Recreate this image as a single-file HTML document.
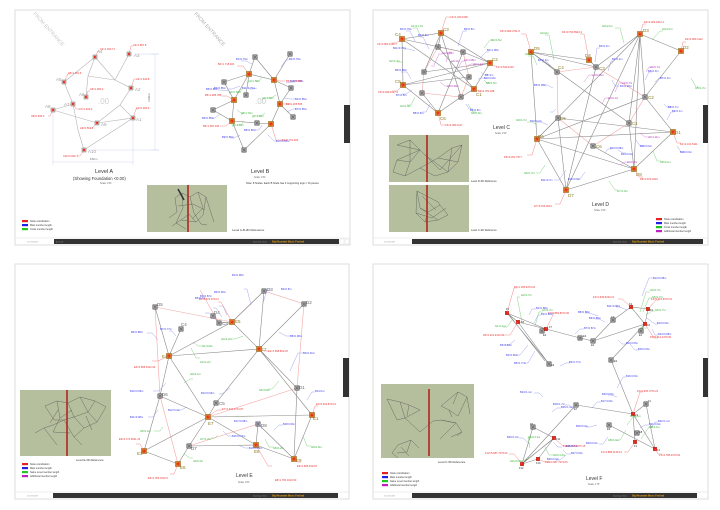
<!DOCTYPE html>
<html><head><meta charset="utf-8">
<style>
html,body{margin:0;padding:0;background:#fff;width:720px;height:510px;overflow:hidden}
svg{display:block;font-family:"Liberation Sans",sans-serif}
.sh{fill:#fff;stroke:#d6d6d6;stroke-width:.8}
.ln{stroke:#8a8a8a;stroke-width:.6;fill:none}
.la{stroke:#b4b4b4;stroke-width:.6;fill:none}
.pk{stroke:#f3a7a7;stroke-width:.6;fill:none}
.dm{stroke:#c4c8ee;stroke-width:.4;fill:none}
.bl{stroke:#8d8df2;stroke-width:.4;fill:none}
.rd{stroke:#f06a6a;stroke-width:.4;fill:none}
.gr{stroke:#62c862;stroke-width:.4;fill:none}
.mg{stroke:#cc66cc;stroke-width:.4;fill:none}
.rl{stroke:#555;stroke-width:.4;fill:none}
text{font-size:2.6px}
.tb{fill:#3c3cec}.tr{fill:#ec3030}.tg{fill:#2fae2f}.tm{fill:#b030b0}
.nl{fill:#8a7a22;font-size:4.5px}
.na{fill:#a0a0a0;font-size:4.5px}
.nk{fill:#333;font-size:2.6px}
.tt{fill:#333;font-size:5.5px}
.sc{fill:#666;font-size:2.4px}
.ft{fill:#999;font-size:2.2px}
.fo{fill:#e8a010;font-size:2.4px;font-weight:bold}
</style></head><body>
<svg width="720" height="510" viewBox="0 0 720 510" xmlns="http://www.w3.org/2000/svg">
<defs>
<g id="on"><rect x="-2.6" y="-2.6" width="5.2" height="5.2" fill="#d8922c" stroke="#7a5a20" stroke-width=".4"/><rect x="-1.5" y="-1.5" width="3" height="3" fill="#e83018"/></g>
<g id="gn"><rect x="-2.2" y="-2.2" width="4.4" height="4.4" fill="#9a9a9a" stroke="#333" stroke-width=".4"/><path d="M-1.5 -1.5L1.5 1.5M1.5 -1.5L-1.5 1.5" stroke="#444" stroke-width=".4"/></g>
<g id="an"><rect x="-2" y="-2" width="4" height="4" fill="#e0e0e0" stroke="#555" stroke-width=".4"/><rect x="-1.2" y="-1.2" width="2.4" height="2.4" fill="#e83018"/></g>
<g id="rn"><rect x="-1.8" y="-1.8" width="3.6" height="3.6" fill="#e82418" stroke="#8a2010" stroke-width=".3"/></g>
</defs>

<!-- ============ SHEET 1 (Level A / B) ============ -->
<rect class="sh" x="15" y="10" width="335" height="235"/>
<text x="0" y="0" transform="translate(33,14) rotate(48)" fill="#c8c8c8" style="font-size:5px">FROM ENTRANCE</text>
<text x="0" y="0" transform="translate(194,14) rotate(48)" fill="#b0b0b0" style="font-size:5px">FROM ENTRANCE</text>
<!-- dimension lines -->
<path class="dm" d="M155 54V150M151 54H159M151 150H159M53 162H133M53 112V165M133 120V165M88 150H159M135 54H159"/>
<text x="150" y="102" transform="rotate(-90 150 102)" class="sc">10.86 m</text>
<text x="90" y="160" class="sc">8.80 m</text>
<!-- level A members -->
<path class="la" d="M64 82L95 57L88 76L86 97M95 57L115 80L129 54M88 76L115 80L131 88L120 105L97 123M120 105L133 118M64 82L73 104M53 110L73 104M53 110L97 123M73 104L78 130L84 150L133 118M97 123L133 118"/>
<text x="98" y="104" fill="#d0d0d0" style="font-size:8px">.00</text>
<use href="#an" x="95" y="57"/><use href="#an" x="129" y="54"/><use href="#an" x="64" y="82"/><use href="#an" x="86" y="97"/>
<use href="#an" x="131" y="88"/><use href="#an" x="73" y="104"/><use href="#an" x="53" y="110"/><use href="#an" x="97" y="123"/>
<use href="#an" x="133" y="118"/><use href="#an" x="84" y="150"/>
<text class="na" x="97" y="53">A4</text><text class="na" x="134" y="57">A3</text><text class="na" x="56" y="81">A5</text><text class="na" x="79" y="96">A6</text>
<text class="na" x="135" y="91">A2</text><text class="na" x="64" y="106">A7</text><text class="na" x="45" y="108">A8</text><text class="na" x="101" y="126">A9</text>
<text class="na" x="136" y="121">A1</text><text class="na" x="88" y="153">A10</text>
<path class="rd" d="M95 57l3-6h2M129 54l2-8h2M64 82l4-8h2M86 97l2-6h2M131 88l3-9h2M73 104l3 5h3M53 110l-3 6h-2M97 123l-5 5h-2M133 118l3-9h2M84 150l-4 6h-3"/>
<text class="tr" x="100" y="50">A4=1.150.71</text><text class="tr" x="133" y="46">A3=1.867.8</text><text class="tr" x="68" y="74">A5=1.681.6</text>
<text class="tr" x="90" y="90">A6=1.900.2</text><text class="tr" x="136" y="80">A2=1.640.8</text><text class="tr" x="79" y="110">A7=1.400.2</text>
<text class="tr" x="31" y="117">A8=0.940.3</text><text class="tr" x="80" y="129">A9=0.561.2</text><text class="tr" x="136" y="109">A1=0.920.9</text>
<text class="tr" x="63" y="157">A10=0.002.7</text>
<!-- level B members -->
<path class="ln" d="M255 57L249 74L274 80L290 54M255 57L274 80M249 74L224 82L234 100L249 74L246 95M274 80L291 88M274 80L280 104L291 88M234 100L213 110L232 121L234 100M232 121L257 123L271 124L280 104L293 117M232 121L244 150L271 124"/>
<text x="255" y="104" fill="#ccc" style="font-size:8px">.00</text>
<use href="#gn" x="255" y="57"/><use href="#gn" x="290" y="54"/><use href="#gn" x="224" y="82"/><use href="#gn" x="291" y="88"/>
<use href="#gn" x="246" y="95"/><use href="#gn" x="213" y="110"/><use href="#gn" x="293" y="117"/><use href="#gn" x="257" y="123"/><use href="#gn" x="244" y="150"/>
<use href="#on" x="249" y="74"/><use href="#on" x="274" y="80"/><use href="#on" x="234" y="100"/><use href="#on" x="280" y="104"/><use href="#on" x="232" y="121"/><use href="#on" x="271" y="124"/>
<path class="bl" d="M252 64l-6-3h-5M281 67l5-7h3M240 86l-8 3h-5M284 98l6 1h5M228 91l-7-1h-3M220 114l-5 4h-3M287 112l6-3h3M262 125l-3 5h-4M240 135l-6 3h-4M268 135l6 6h3M257 88l-4 1h-4M286 83l6-1h3"/>
<text class="tb" x="236" y="60">B1=0.79m</text><text class="tb" x="289" y="60">B2=0.79m</text><text class="tb" x="214" y="89">B3=0.85m</text>
<text class="tb" x="295" y="100">B4=0.85m</text><text class="tb" x="206" y="90">B5=0.86m</text><text class="tb" x="202" y="119">B6=0.85m</text>
<text class="tb" x="295" y="110">B7=0.85m</text><text class="tb" x="244" y="131">B8=0.86m</text><text class="tb" x="222" y="138">B9=0.85m</text>
<text class="tb" x="276" y="142">B10=0.85m</text><text class="tb" x="242" y="89">B11=0.79m</text><text class="tb" x="290" y="82">B12=0.86m</text>
<path class="gr" d="M262 77l-3 4h-4M243 88l-3 4h-3M276 95l-5 3h-4M244 121l-3 4h-4M265 113l-4 3h-4M237 110l4 3h3"/>
<text class="tg" x="248" y="82">g1=1.72m</text><text class="tg" x="229" y="93">g2=1.72m</text><text class="tg" x="262" y="99">g3=1.73m</text>
<text class="tg" x="232" y="126">g4=1.74m</text><text class="tg" x="252" y="117">g5=1.72m</text><text class="tg" x="241" y="114">g6=1.74m</text>
<path class="rd" d="M249 74l-6-8h-6M274 80l6 1h5M234 100l-7-4h-6M280 104l6 0h5M232 121l-6 5h-6M271 124l5 16h6"/>
<text class="tr" x="218" y="65">B4=1.718.024</text><text class="tr" x="286" y="82">B3=1.847.365</text><text class="tr" x="205" y="96">B5=1.995.785</text>
<text class="tr" x="286" y="105">B2=1.265.505</text><text class="tr" x="203" y="127">B6=1.997.034</text><text class="tr" x="282" y="141">B1=0.761.204</text>
<text class="tt" x="95" y="173">Level A</text>
<text x="73" y="180" fill="#333" style="font-size:4.2px">(Showing Foundation  &lt;0.00)</text>
<text class="sc" x="100" y="184">Scale    1:50</text>
<text class="tt" x="251" y="173">Level B</text>
<text class="sc" x="254" y="178">Scale    1:50</text>
<text x="246" y="184" fill="#333" style="font-size:2.6px">Note: 8 Nodes: Each B Node has 3 supporting legs = 16 pieces</text>
<!-- ref box -->
<rect x="147" y="185" width="80" height="47" fill="#b5bf9d"/>
<path class="rl" d="M175 198L182 193L190 197L198 192L206 197L203 215L196 222L189 214L181 220L172 226M175 198L177 212L169 218M182 193L183 208L176 223L186 229M190 197L194 213L201 224L207 225M198 192L203 208L192 219M206 197L211 213L214 222M178 206L193 204L205 210M181 220L196 222"/>
<path d="M178 189L184 200" stroke="#333" stroke-width="1.5"/>
<rect x="187.2" y="185" width="1.6" height="47" fill="#b3261e"/>
<text x="232" y="231" fill="#333" style="font-size:3px">Level A-B-3D Reference</text>
<!-- legend -->
<rect x="22" y="220" width="6" height="2.2" fill="#e82020"/><text x="30" y="222" fill="#333" style="font-size:2.4px">Node coordination</text>
<rect x="22" y="224" width="6" height="2.2" fill="#2020e8"/><text x="30" y="226" fill="#333" style="font-size:2.4px">Main member length</text>
<rect x="22" y="228" width="6" height="2.2" fill="#20c820"/><text x="30" y="230" fill="#333" style="font-size:2.4px">Cross member length</text>
<!-- footer -->
<path d="M15 238H350" stroke="#ddd" stroke-width=".5"/>
<text class="ft" x="27" y="242.5">11/13/2009</text>
<rect x="54" y="239" width="285" height="5" fill="#333"/>
<text class="ft" x="56" y="242.5">A Level</text>
<text class="ft" x="253" y="242.5">Dancing Tree |</text><text class="fo" x="272" y="242.6">Big Mountain Music Festival</text>
<rect x="340" y="239" width="4" height="5" fill="#fff" stroke="#ccc" stroke-width=".3"/><rect x="345" y="239" width="4" height="5" fill="#fff" stroke="#ccc" stroke-width=".3"/>
<rect x="344" y="105" width="6" height="38" fill="#333"/>

<!-- ============ SHEET 2 (Level C / D) ============ -->
<rect class="sh" x="373" y="10" width="335" height="235"/>
<!-- Level C -->
<path class="pk" d="M438 47L424 72L422 93L461 97L469 77L463 52Z"/>
<path class="ln" d="M402 39L441 33L490 63L474 89L461 97L438 113L403 85L402 39M402 39L474 89M441 33L461 97M403 85L490 63M402 39L463 52L490 63M424 72L490 63M422 93L438 113M438 47L474 89M438 113L463 52M403 85L469 77M441 33L438 47M441 33L424 72"/>
<use href="#gn" x="438" y="47"/><use href="#gn" x="463" y="52"/><use href="#gn" x="424" y="72"/><use href="#gn" x="469" y="77"/><use href="#gn" x="422" y="93"/><use href="#gn" x="461" y="97"/>
<use href="#on" x="402" y="39"/><use href="#on" x="441" y="33"/><use href="#on" x="490" y="63"/><use href="#on" x="403" y="85"/><use href="#on" x="474" y="89"/><use href="#on" x="438" y="113"/>
<text class="nl" x="395" y="36">C4</text><text class="nl" x="443" y="31">C3</text><text class="nl" x="492" y="61">C2</text><text class="nl" x="395" y="83">C5</text><text class="nl" x="476" y="96">C1</text><text class="nl" x="440" y="120">C6</text>
<path class="rd" d="M402 39l-6 4h-5M441 33l5-16h4M490 63l3 3h4M403 85l-6 6h-5M474 89l4 2h4M438 113l3 12h4"/>
<text class="tr" x="377" y="45">C4=3.952.1140.7</text><text class="tr" x="450" y="18">C3=1.340.1600</text><text class="tr" x="496" y="68">C2=3.530.1100</text>
<text class="tr" x="378" y="93">C5=2.949.1027.4</text><text class="tr" x="478" y="92">C1=4.781.208</text><text class="tr" x="445" y="126">C6=4.383.1117</text>
<path class="bl" d="M415 41l-5-10h-4M429 49l-6-12h-3M458 46l5-15h4M480 58l6-6h3M481 72l3 3h4M411 79l-4-7h-6M412 90l-6 4h-4M430 104l-4 8h-4M466 104l3 5h4M478 79l4-1h4M415 51l-6-2h-5"/>
<text class="tb" x="400" y="30">B1=0.79m</text><text class="tb" x="418" y="36">B2=0.8m</text><text class="tb" x="464" y="30">B3=0.8m</text>
<text class="tb" x="487" y="51">B4=1.08m</text><text class="tb" x="485" y="76">B5=1m</text><text class="tb" x="395" y="71">B6=0.88m</text>
<text class="tb" x="396" y="96">B7=0.8m</text><text class="tb" x="413" y="114">B8=0.8m</text><text class="tb" x="470" y="111">B9=0.8m</text>
<text class="tb" x="484" y="79">B10=0.8m</text><text class="tb" x="393" y="49">B11=0.79m</text>
<path class="gr" d="M420 35l-3-7h-4M403 62h-5M415 97l-4 8h-4M484 48l6-8h3M484 80l3 3h3M468 104l5 8h3"/>
<text class="tg" x="411" y="27">G1=1.17m</text><text class="tg" x="389" y="62">G2=1.3m</text><text class="tg" x="400" y="107">G3=1.3m</text>
<text class="tg" x="491" y="41">G4=1.5m</text><text class="tg" x="486" y="84">G5=1.5m</text><text class="tg" x="471" y="114">G6=1.6m</text>
<path class="mg" d="M434 65l5-11h3M446 62l3-10h3M457 70l5-9h3M467 66l4-2h4M440 82l5 4h3M431 66l4 0"/>
<text class="tm" x="442" y="54">a1=0.99m</text><text class="tm" x="451" y="62">a2=1m</text><text class="tm" x="464" y="61">a3=1.08m</text><text class="tm" x="473" y="65">a4=1.1m</text><text class="tm" x="447" y="87">a5=0.99m</text>
<text class="tt" x="493" y="129" style="font-size:5px">Level C</text><text class="sc" x="495" y="134">Scale    1:50</text>
<!-- ref boxes -->
<rect x="389" y="135" width="80" height="47" fill="#b5bf9d"/>
<path class="rl" d="M397 145L410 140L420 150L410 162L397 160L393 172L405 176L420 168L438 158L452 148L462 145L458 162L448 172L435 176L420 168M397 145L420 150L397 160M410 140L410 162L405 176M452 148L448 172M438 158L458 162M425 155L448 172M440 170L462 145M420 150L440 170"/>
<rect x="426.2" y="135" width="1.6" height="47" fill="#b3261e"/>
<text x="471" y="182" fill="#333" style="font-size:2.6px">Level D-3D Reference</text>
<rect x="389" y="185" width="80" height="47" fill="#b5bf9d"/>
<path class="rl" d="M417 191L420 208L428 212L440 205L448 215L438 220L425 222L416 213L417 191L438 202L440 205M420 208L438 220M428 212L425 222M416 213L432 218L446 208M422 196L436 210"/>
<rect x="426.2" y="185" width="1.6" height="47" fill="#b3261e"/>
<text x="471" y="231" fill="#333" style="font-size:2.6px">Level C-3D Reference</text>
<!-- Level D -->
<path class="pk" d="M557 72L596 67L645 97L629 123L593 146L558 118Z"/>
<path class="ln" d="M531 52L557 72M531 52L596 67M531 52L589 60L596 67M531 52L537 139M531 52L629 123M640 34L596 67M640 34L681 51M640 34L537 139M640 34L566 190M640 34L634 169M640 34L629 123M640 34L645 97M681 51L645 97L673 132M645 97L537 139M558 118L537 139M558 118L673 132M558 118L566 190M596 67L566 190M537 139L634 169M537 139L566 190L634 169L673 132M629 123L634 169M593 146L634 169M537 139L673 132"/>
<use href="#gn" x="557" y="72"/><use href="#gn" x="596" y="67"/><use href="#gn" x="645" y="97"/><use href="#gn" x="558" y="118"/><use href="#gn" x="629" y="123"/><use href="#gn" x="593" y="146"/>
<use href="#on" x="531" y="52"/><use href="#on" x="589" y="60"/><use href="#on" x="640" y="34"/><use href="#on" x="681" y="51"/><use href="#on" x="673" y="132"/><use href="#on" x="537" y="139"/><use href="#on" x="634" y="169"/><use href="#on" x="566" y="190"/>
<text class="nl" x="534" y="50">D5</text><text class="nl" x="585" y="57">D4</text><text class="nl" x="643" y="32">D3</text><text class="nl" x="683" y="49">D2</text>
<text class="nl" x="558" y="69">C4</text><text class="nl" x="599" y="70">C3</text><text class="nl" x="648" y="99">C2</text><text class="nl" x="560" y="120">C5</text>
<text class="nl" x="632" y="125">C1</text><text class="nl" x="596" y="148">C6</text><text class="nl" x="675" y="134">D1</text><text class="nl" x="538" y="138">D6</text>
<text class="nl" x="636" y="176">D8</text><text class="nl" x="568" y="197">D7</text>
<path class="rd" d="M531 52l-5-18h-5M589 60l-5-26h-4M640 34l3-10h3M681 51l2-9h3M673 132l4 11h4M537 139l-5 16h-5M634 169l5 8h4M566 190l-6 14h-5"/>
<text class="tr" x="500" y="32">D5=0.993.3711.8</text><text class="tr" x="562" y="33">D4=0.790.8910.3</text><text class="tr" x="644" y="23">D3=2.204.9412.4</text>
<text class="tr" x="685" y="40">D2=4.083.4112</text><text class="tr" x="680" y="145">D1=4.101.5411</text><text class="tr" x="504" y="158">D6=0.201.7577</text>
<text class="tr" x="640" y="180">D8=1.872.4010</text><text class="tr" x="534" y="207">D7=3.154.0010</text>
<path class="bl" d="M551 66l-4-4h-5M595 62l2-14h3M608 71l3-10h3M612 80l3 6h4M553 88l-6-3h-4M645 80l4-8h3M655 82l4-4h3M664 104l3 3h4M667 120l4-8h3M548 125l-7-3h-5M566 170l-7 10h-5M585 172l-5 7h-3M605 153l3-4h4M618 150l5 3h3M636 140l4 6h4M677 146l4 6h4M556 109l-3 3h-3"/>
<text class="tb" x="538" y="61">B4=0.2m</text><text class="tb" x="599" y="47">B3=0.3m</text><text class="tb" x="612" y="60">B2=0.2m</text>
<text class="tb" x="620" y="87">B1=0.28m</text><text class="tb" x="534" y="86">B5=0.38m</text><text class="tb" x="648" y="72">B6=0.3m</text>
<text class="tb" x="660" y="79">B7=0.3m</text><text class="tb" x="668" y="108">B8=0.7m</text><text class="tb" x="672" y="112">B9=0.1m</text>
<text class="tb" x="530" y="122">B10=0.2m</text><text class="tb" x="541" y="181">B11=0.7m</text><text class="tb" x="568" y="180">B12=0.9m</text>
<text class="tb" x="610" y="149">B13=0.98m</text><text class="tb" x="621" y="155">B14=0.9m</text><text class="tb" x="640" y="147">B15=0.9m</text><text class="tb" x="680" y="153">B16=0.6m</text>
<path class="gr" d="M537 65l-4-9h-5M554 60l-5-25h-4M624 43l-4-15h-5M652 40l8-9h3M691 78l5 9h3M545 165l-5 8h-4M609 181l6 9h3M653 151l4 10h4M537 125l-5-3h-5"/>
<text class="tg" x="525" y="55">G1=2m</text><text class="tg" x="540" y="34">G2=2m</text><text class="tg" x="602" y="27">G3=2.1m</text>
<text class="tg" x="662" y="30">G4=2.1m</text><text class="tg" x="695" y="89">G5=1.7m</text><text class="tg" x="524" y="174">G6=1.7m</text>
<text class="tg" x="617" y="192">G7=1.9m</text><text class="tg" x="660" y="163">G8=2.1m</text><text class="tg" x="516" y="121">G9=1.7m</text>
<path class="mg" d="M584 82l5-7h3M602 104l3-6h4M615 92l4-9h3M646 72l3-5h3M640 133l5 4h3M620 165l5-3h3"/>
<text class="tm" x="592" y="76">a1=0.96m</text><text class="tm" x="608" y="99">a2=0.1m</text><text class="tm" x="622" y="84">a3=0.7m</text>
<text class="tm" x="650" y="68">a4=0.7m</text><text class="tm" x="648" y="138">a5=1.11m</text><text class="tm" x="627" y="163">a6=0.2m</text>
<text class="tt" x="592" y="206" style="font-size:5px">Level D</text><text class="sc" x="594" y="211">Scale    1:50</text>
<rect x="656" y="218" width="6" height="2.2" fill="#e82020"/><text x="664" y="220" fill="#333" style="font-size:2.4px">Node coordination</text>
<rect x="656" y="222" width="6" height="2.2" fill="#2020e8"/><text x="664" y="224" fill="#333" style="font-size:2.4px">Main member length</text>
<rect x="656" y="226" width="6" height="2.2" fill="#20c820"/><text x="664" y="228" fill="#333" style="font-size:2.4px">Cross member length</text>
<rect x="656" y="230" width="6" height="2.2" fill="#c020c0"/><text x="664" y="232" fill="#333" style="font-size:2.4px">Additional member length</text>
<path d="M373 238H708" stroke="#ddd" stroke-width=".5"/>
<text class="ft" x="384" y="242.5">11/13/2009</text>
<rect x="412" y="239" width="291" height="5" fill="#333"/>
<text class="ft" x="613" y="242.5">Dancing Tree |</text><text class="fo" x="632" y="242.6">Big Mountain Music Festival</text>
<rect x="703" y="105" width="5" height="38" fill="#333"/>

<!-- ============ SHEET 3 (Level E) ============ -->
<rect class="sh" x="15" y="264" width="334" height="235"/>
<path class="pk" d="M155 307L160 396M155 307L232 322M232 322L264 291L304 304L297 388M208 417L297 388M160 396L178 464M189 446L258 424M219 323L200 290"/>
<path class="ln" d="M155 307L169 356M181 329L169 356M169 356L232 322M169 356L259 349M169 356L208 417M169 356L160 396L144 451M160 396L208 417M232 322L259 349M232 322L264 291L259 349M304 304L259 349M259 349L216 403L208 417M259 349L312 415M259 349L297 388L294 459M312 415L294 459M208 417L312 415M208 417L256 445M208 417L144 451M208 417L189 446L178 464M144 451L178 464M189 446L256 445L294 459M258 424L256 445M258 424L294 459M213 316L219 323L232 322"/>
<use href="#gn" x="264" y="291"/><use href="#gn" x="304" y="304"/><use href="#gn" x="155" y="307"/><use href="#gn" x="213" y="316"/><use href="#gn" x="219" y="323"/>
<use href="#gn" x="181" y="329"/><use href="#gn" x="297" y="388"/><use href="#gn" x="160" y="396"/><use href="#gn" x="216" y="403"/><use href="#gn" x="258" y="424"/><use href="#gn" x="189" y="446"/>
<use href="#on" x="232" y="322"/><use href="#on" x="259" y="349"/><use href="#on" x="169" y="356"/><use href="#on" x="208" y="417"/><use href="#on" x="312" y="415"/>
<use href="#on" x="256" y="445"/><use href="#on" x="294" y="459"/><use href="#on" x="144" y="451"/><use href="#on" x="178" y="464"/>
<text class="na" x="267" y="291" style="fill:#666">D3</text><text class="na" x="306" y="304" style="fill:#666">D2</text><text class="na" x="157" y="306" style="fill:#666">D5</text>
<text class="na" x="214" y="314" style="fill:#666">D4</text><text class="na" x="222" y="325" style="fill:#666">C3</text><text class="nl" x="235" y="323">E5</text>
<text class="na" x="181" y="326" style="fill:#666">C4</text><text class="nl" x="261" y="351">E2</text><text class="nl" x="162" y="358">E4</text>
<text class="na" x="299" y="389" style="fill:#666">D1</text><text class="na" x="162" y="396" style="fill:#666">D6</text><text class="na" x="219" y="405" style="fill:#666">C5</text>
<text class="nl" x="208" y="425">E7</text><text class="nl" x="313" y="420">E1</text><text class="na" x="261" y="427" style="fill:#666">D8</text>
<text class="na" x="191" y="450" style="fill:#666">D7</text><text class="nl" x="254" y="453">E8</text><text class="nl" x="296" y="462">E9</text>
<text class="nl" x="137" y="455">E3</text><text class="nl" x="180" y="469">E6</text>
<path class="rd" d="M232 322l-11-20h-3M259 349l5 2h4M169 356l-11 5h-6M208 417l9-7h5M312 415l3-9h3M294 459l3 3h4M144 451l-4-7h-4M178 464l-4 10h-4M256 445l12 21h4"/>
<text class="tr" x="199" y="300">E5=2.972.9713.2</text><text class="tr" x="268" y="352">E2=1.668.8213.8</text><text class="tr" x="134" y="368">E4=3.685.0412.92</text>
<text class="tr" x="222" y="410">E7=3.631.3713.87</text><text class="tr" x="316" y="405">E1=0.542.8713.9</text><text class="tr" x="297" y="467">E9=3.695.4513.8</text>
<text class="tr" x="119" y="440">E3=4.774.9611.15</text><text class="tr" x="148" y="479">E6=2.783.7010.6</text><text class="tr" x="275" y="481">E8=1.784.0413.53</text>
<path class="bl" d="M251 305l-4-16h-3M263 303l4-13h4M227 315l-4-9h-4M222 317l-6-9h-3M215 318l-6-5h-4M158 340l-6-7h-5M176 336l-4-5h-3M279 332l7 4h4M290 371l8-18h5M166 383l-7 8h-6M158 410l-5 7h-5M187 407l-6 3h-4M230 388l-8 6h-3M307 400l5-8h3M223 431l5 5h4M238 445l7 3h4M262 429l-3-7h-4M274 430l5-5h4"/>
<text class="tb" x="232" y="276">B1=0.98m</text><text class="tb" x="281" y="290">B2=0.8m</text><text class="tb" x="214" y="293">B3=0.95m</text>
<text class="tb" x="200" y="297">B4=0.87m</text><text class="tb" x="195" y="299">B5=0.7m</text><text class="tb" x="131" y="333">B6=0.88m</text>
<text class="tb" x="160" y="330">B7=0.77m</text><text class="tb" x="290" y="337">B8=0.98m</text><text class="tb" x="303" y="354">B9=0.91m</text>
<text class="tb" x="130" y="392">B10=0.96m</text><text class="tb" x="130" y="418">B11=0.98m</text><text class="tb" x="168" y="411">B12=0.1m</text>
<text class="tb" x="201" y="394">B13=0.96m</text><text class="tb" x="315" y="392">B14=1m</text><text class="tb" x="232" y="437">B15=0.72m</text>
<text class="tb" x="249" y="449">B16=0.89m</text><text class="tb" x="234" y="422">B17=0.98m</text><text class="tb" x="283" y="425">B18=0.8m</text>
<path class="gr" d="M193 342l5 4h4M191 348l5 10h4M184 383l6-4h3M243 336l-8 3h-4M279 381l-7 8h-4M163 427l-3 4h-6M218 435l-3 3h-4M265 439l4 8h5M303 436l4 10h4M184 454l6 4h3"/>
<text class="tg" x="202" y="347">G1=0.9m</text><text class="tg" x="200" y="363">G2=1.2m</text><text class="tg" x="190" y="375">G3=1.1m</text>
<text class="tg" x="221" y="340">G4=1.2m</text><text class="tg" x="259" y="391">G5=0.9m</text><text class="tg" x="140" y="432">G6=1.1m</text>
<text class="tg" x="200" y="440">G7=1.2m</text><text class="tg" x="273" y="449">G8=1.2m</text><text class="tg" x="311" y="448">G9=1.5m</text><text class="tg" x="193" y="462">G10=1m</text>
<text x="169" y="486" fill="#ccc" style="font-size:3px">.</text>
<text class="tt" x="236" y="477" style="font-size:5px">Level E</text><text class="sc" x="238" y="483">Scale    1:50</text>
<rect x="20" y="390" width="91" height="66" fill="#b5bf9d"/>
<path class="rl" d="M45 406L57 401L68 403L80 397L95 401L106 407L97 422L84 428L74 417L64 420L53 425L44 428L35 433M45 406L54 420L64 420M57 401L60 418L53 432M68 403L74 417L88 412L97 422M80 397L88 412L95 401M64 420L74 437L84 428M44 428L57 445M53 432L70 433M74 437L82 445M86 416L92 430M58 410L50 423M60 418L72 410"/>
<rect x="66.2" y="390" width="1.6" height="66" fill="#b3261e"/>
<text x="76" y="461" fill="#333" style="font-size:2.8px">Level E-3D Reference</text>
<rect x="22" y="463" width="6" height="2.2" fill="#e82020"/><text x="30" y="465" fill="#333" style="font-size:2.4px">Node coordination</text>
<rect x="22" y="467" width="6" height="2.2" fill="#2020e8"/><text x="30" y="469" fill="#333" style="font-size:2.4px">Main member length</text>
<rect x="22" y="471" width="6" height="2.2" fill="#20c820"/><text x="30" y="473" fill="#333" style="font-size:2.4px">Same Level member length</text>
<rect x="22" y="475" width="6" height="2.2" fill="#c020c0"/><text x="30" y="477" fill="#333" style="font-size:2.4px">Additional member length</text>
<path d="M15 492H349" stroke="#ddd" stroke-width=".5"/>
<text class="ft" x="27" y="496.5">11/13/2009</text>
<rect x="53" y="493" width="285" height="5" fill="#333"/>
<text class="ft" x="253" y="496.5">Dancing Tree |</text><text class="fo" x="272" y="496.6">Big Mountain Music Festival</text>
<rect x="343" y="358" width="6" height="39" fill="#333"/>

<!-- ============ SHEET 4 (Level F) ============ -->
<rect class="sh" x="373" y="264" width="335" height="235"/>
<path class="ln" d="M507 313L549 364M518 322L549 364M510 316L545 361M507 313L546 329M518 322L546 329M507 313L518 322M546 329L580 338L593 341L613 320L631 307L648 309M631 307L645 324M648 309L645 324M593 341L645 324M641 331L645 324M645 324L611 360L633 414M576 405L633 414M576 405L522 464M633 414L646 404M633 414L655 449M609 425L655 449M633 414L635 442M646 404L655 449M533 427L522 464M554 438L522 464M538 459L554 438M522 464L538 459M554 438L533 427M524 462L552 440"/>
<use href="#gn" x="542" y="331"/><use href="#gn" x="549" y="364"/><use href="#gn" x="580" y="338"/><use href="#gn" x="593" y="341"/><use href="#gn" x="613" y="320"/>
<use href="#gn" x="641" y="331"/><use href="#gn" x="611" y="360"/><use href="#gn" x="576" y="405"/><use href="#gn" x="533" y="427"/><use href="#gn" x="646" y="404"/><use href="#gn" x="609" y="425"/><use href="#gn" x="637" y="433"/>
<use href="#rn" x="507" y="313"/><use href="#rn" x="518" y="322"/><use href="#rn" x="546" y="329"/><use href="#rn" x="631" y="307"/><use href="#rn" x="648" y="309"/><use href="#rn" x="645" y="324"/>
<use href="#rn" x="554" y="438"/><use href="#rn" x="538" y="459"/><use href="#rn" x="522" y="464"/><use href="#rn" x="633" y="414"/><use href="#rn" x="635" y="442"/><use href="#rn" x="655" y="449"/>
<text class="nk" x="506" y="310">F5</text><text class="nk" x="521" y="323">F8</text><text class="nk" x="549" y="328">F7</text><text class="nk" x="543" y="336">E4</text>
<text class="nk" x="551" y="366">E6</text><text class="nk" x="583" y="337">E3</text><text class="nk" x="591" y="346">E2</text><text class="nk" x="611" y="318">C3</text>
<text class="nk" x="629" y="305">F3</text><text class="nk" x="650" y="311">F4</text><text class="nk" x="647" y="326">F6</text><text class="nk" x="639" y="336">E1</text>
<text class="nk" x="614" y="362">E2</text><text class="nk" x="574" y="410">E7</text><text class="nk" x="530" y="425">F5</text><text class="nk" x="556" y="440">F11</text>
<text class="nk" x="536" y="464">F10</text><text class="nk" x="519" y="469">F12</text><text class="nk" x="635" y="416">F2</text><text class="nk" x="648" y="402">F1</text>
<text class="nk" x="607" y="430">E9</text><text class="nk" x="639" y="433">E8</text><text class="nk" x="634" y="447">F1</text><text class="nk" x="657" y="451">F1</text>
<path class="rd" d="M507 313l7-25h3M518 322l-8 13h-6M546 329l8-16h3M631 307l-9-8h-4M648 309l8-9h3M645 324l9 14h4M554 438l9 8h6M538 459l7 3h5M522 464l-8-10h-5M633 414l7-22h3M635 442l-7 10h-4M655 449l3 5h4"/>
<text class="tr" x="514" y="288">F5=1.195.9373.22</text><text class="tr" x="483" y="336">F8=4.224.3413.29</text><text class="tr" x="548" y="314">F7=0.763.8272.00</text>
<text class="tr" x="593" y="298">F3=4.649.5240.21</text><text class="tr" x="651" y="300">F4=5.216.3070.21</text><text class="tr" x="650" y="338">F6=5.614.1370.00</text>
<text class="tr" x="563" y="447">F11=5.895.8770.15</text><text class="tr" x="545" y="463">F10=4.687.7373.00</text><text class="tr" x="485" y="454">F12=5.687.7373.00</text>
<text class="tr" x="637" y="392">F2=3.635.7276.21</text><text class="tr" x="601" y="453">F2=4.898.1149.12</text><text class="tr" x="659" y="456">F1=4.758.0473.04</text>
<path class="bl" d="M529 315l3-6h4M534 323l4-8h3M515 340l-6 5h-4M528 345l-8 10h-4M535 351l-7 12h-4M560 366l6-3h4M575 334l5-5h4M598 316l-9-3h-4M605 322l-6-3h-4M618 340l4 4h4M627 310l-7-3h-4M642 296l7-18h4M647 318l8 6h3M652 329l3 6h3M630 344l5 6h4M617 388l6-11h3M592 408l5-6h4M575 410l-6-5h-4M597 425l-7 2h-4M608 437l-5 7h-4M640 428l5-3h4M651 428l4-6h3M617 397l-6-2h-3M543 397l-4-4h-5M552 412l5-4h4M530 444l-7-6h-4M563 450l4 4h4M553 442l5 5h4M566 455l-6 5h-4"/>
<text class="tb" x="536" y="309">B1=0.88m</text><text class="tb" x="541" y="315">B2=0.89m</text><text class="tb" x="500" y="346">B3=0.84m</text>
<text class="tb" x="506" y="356">B4=0.86m</text><text class="tb" x="514" y="364">B5=0.77m</text><text class="tb" x="569" y="363">B6=0.77m</text>
<text class="tb" x="584" y="329">B7=0.87m</text><text class="tb" x="578" y="313">B8=0.88m</text><text class="tb" x="589" y="319">B9=0.89m</text>
<text class="tb" x="626" y="344">B10=0.8m</text><text class="tb" x="607" y="307">B11=0.98m</text><text class="tb" x="653" y="279">B12=0.98m</text>
<text class="tb" x="657" y="324">B13=0.8m</text><text class="tb" x="658" y="335">B14=0.98m</text><text class="tb" x="638" y="350">B15=0.8m</text>
<text class="tb" x="626" y="377">B16=0.8m</text><text class="tb" x="601" y="402">B17=0.8m</text><text class="tb" x="553" y="405">B18=1.7m</text>
<text class="tb" x="576" y="427">B19=0.9m</text><text class="tb" x="586" y="444">B20=0.9m</text><text class="tb" x="649" y="425">B21=0.9m</text>
<text class="tb" x="658" y="422">B22=1.1m</text><text class="tb" x="602" y="395">B23=0.8m</text><text class="tb" x="520" y="393">B24=1.1m</text>
<text class="tb" x="561" y="408">B25=1.1m</text><text class="tb" x="507" y="438">B26=1.0m</text><text class="tb" x="571" y="454">B27=0.8m</text>
<text class="tb" x="566" y="447">B28=0.9m</text><text class="tb" x="547" y="460">B29=0.9m</text>
<path class="gr" d="M513 319l-6 8h-4M522 322l-5-25h3M535 326l4-14h4M640 312l6-20h4M643 312l6-14h3M646 315l6-4h3M640 328l4 0h3M627 425l6-8h4M626 430l-6 10h-4M641 439l8-12h4M545 447l4 8h4M529 457l-6 4h-4M530 448l-2-10h3"/>
<text class="tg" x="495" y="327">G1=1.1m</text><text class="tg" x="521" y="296">G2=1.7m</text><text class="tg" x="542" y="311">G3=1.7m</text>
<text class="tg" x="650" y="291">G4=1.7m</text><text class="tg" x="652" y="298">G5=1.7m</text><text class="tg" x="655" y="311">G6=1.7m</text>
<text class="tg" x="630" y="417">G7=1.1m</text><text class="tg" x="608" y="441">G8=1.1m</text><text class="tg" x="649" y="428">G9=1.1m</text>
<text class="tg" x="553" y="456">G10=1.0m</text><text class="tg" x="510" y="462">G11=0.9m</text><text class="tg" x="528" y="438">G12=1.1m</text>
<text x="587" y="372" fill="#bbb" style="font-size:3px">.</text>
<text class="tt" x="586" y="480" style="font-size:5px">Level F</text><text class="sc" x="588" y="485">Scale    1:75</text>
<rect x="381" y="384" width="93" height="74" fill="#b5bf9d"/>
<path class="rl" d="M387 399L400 402L409 405L420 410L405 418L420 432L433 421M400 402L405 418L397 420L387 399M409 405L407 416M441 406L458 392L467 397L458 416L449 410L441 406M458 392L453 404M467 397L470 414M449 410L452 417M441 420L456 423L462 432L451 437M456 423L449 430L440 439M462 432L457 436M411 440L398 445L392 453L398 458M411 440L407 452L397 453M411 440L419 448M401 447L409 456M433 421L441 420L456 423"/>
<rect x="428.2" y="389" width="1.6" height="67" fill="#b3261e"/>
<text x="438" y="463" fill="#333" style="font-size:2.8px">Level F-3D Reference</text>
<rect x="382" y="472" width="6" height="2.2" fill="#e82020"/><text x="390" y="474" fill="#333" style="font-size:2.4px">Node coordination</text>
<rect x="382" y="476" width="6" height="2.2" fill="#2020e8"/><text x="390" y="478" fill="#333" style="font-size:2.4px">Main member length</text>
<rect x="382" y="480" width="6" height="2.2" fill="#20c820"/><text x="390" y="482" fill="#333" style="font-size:2.4px">Same Level member length</text>
<rect x="382" y="484" width="6" height="2.2" fill="#c020c0"/><text x="390" y="486" fill="#333" style="font-size:2.4px">Additional member length</text>
<path d="M373 492H708" stroke="#ddd" stroke-width=".5"/>
<text class="ft" x="384" y="496.5">11/13/2009</text>
<rect x="412" y="493" width="285" height="5" fill="#333"/>
<text class="ft" x="613" y="496.5">Dancing Tree |</text><text class="fo" x="632" y="496.6">Big Mountain Music Festival</text>
<rect x="703" y="358" width="5" height="39" fill="#333"/>
</svg>
</body></html>
